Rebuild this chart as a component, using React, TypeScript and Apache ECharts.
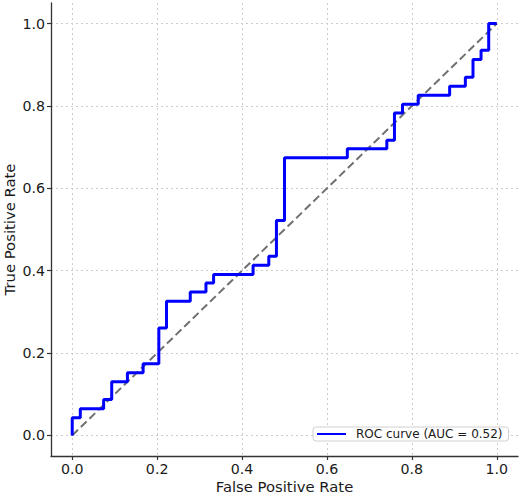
import React, { useEffect, useRef } from "react";
import * as echarts from "echarts";

const fpr = [0, 0, 0.019, 0.019, 0.074, 0.074, 0.093, 0.093, 0.13, 0.13, 0.167, 0.167, 0.204, 0.204, 0.222, 0.222, 0.278, 0.278, 0.315, 0.315, 0.333, 0.333, 0.426, 0.426, 0.463, 0.463, 0.481, 0.481, 0.5, 0.5, 0.648, 0.648, 0.741, 0.741, 0.759, 0.759, 0.778, 0.778, 0.815, 0.815, 0.889, 0.889, 0.926, 0.926, 0.944, 0.944, 0.963, 0.963, 0.981, 0.981, 1];
const tpr = [0, 0.043, 0.043, 0.065, 0.065, 0.087, 0.087, 0.13, 0.13, 0.152, 0.152, 0.174, 0.174, 0.261, 0.261, 0.326, 0.326, 0.348, 0.348, 0.37, 0.37, 0.391, 0.391, 0.413, 0.413, 0.435, 0.435, 0.522, 0.522, 0.674, 0.674, 0.696, 0.696, 0.717, 0.717, 0.783, 0.783, 0.804, 0.804, 0.826, 0.826, 0.848, 0.848, 0.87, 0.87, 0.913, 0.913, 0.935, 0.935, 1, 1];
const chanceX = [0, 1];
const chanceY = [0, 1];
const tickValues = [0, 0.2, 0.4, 0.6, 0.8, 1.0];
const aucLabel = "ROC curve (AUC = 0.52)";
const xName = "False Positive Rate";
const yName = "True Positive Rate";

const FONT = "DejaVu Sans";
const SPINE = "#333333";
const TEXT = "#1a1a1a";

export default function App() {
  const ref = useRef<HTMLDivElement>(null);
  useEffect(() => {
    if (!ref.current) return;
    const chart = echarts.init(ref.current, undefined, { renderer: "svg" });
    const axisCommon = {
      type: "value" as const,
      min: -0.05,
      max: 1.05,
      nameLocation: "middle" as const,
      nameMoveOverlap: false,
      nameTextStyle: { fontFamily: FONT, fontSize: 14.8, color: TEXT },
      axisLine: { show: true, onZero: false, lineStyle: { color: SPINE, width: 1.3 } },
      axisTick: {
        show: true,
        customValues: tickValues,
        length: 4,
        lineStyle: { color: SPINE, width: 1.2 },
      },
      axisLabel: {
        customValues: tickValues,
        formatter: (v: number) => v.toFixed(1),
        fontFamily: FONT,
        fontSize: 14.2,
        color: TEXT,
        margin: 6,
      },
      splitLine: {
        show: true,
        lineStyle: { color: "#cccccc", type: [2, 3], width: 1 },
      },
    };
    chart.setOption({
      animation: false,
      backgroundColor: "#ffffff",
      grid: { left: 51, top: 3, right: 2, bottom: 38, containLabel: false, outerBoundsMode: "none" },
      xAxis: { ...axisCommon, name: xName, nameGap: 22.5 },
      yAxis: { ...axisCommon, name: yName, nameGap: 34 },
      legend: {
        left: 313,
        top: 427,
        padding: [1, 6, 1, 3],
        itemWidth: 29,
        itemHeight: 14,
        borderColor: "#d0d0d0",
        borderWidth: 1,
        borderRadius: 3,
        backgroundColor: "#ffffff",
        itemStyle: { opacity: 0 },
        textStyle: { fontFamily: FONT, fontSize: 12, color: TEXT, padding: [0, 0, 0, 5] },
        data: [aucLabel],
      },
      series: [
        {
          name: "chance",
          type: "line",
          data: chanceX.map((x, i) => [x, chanceY[i]]),
          symbol: "none",
          lineStyle: { color: "#707070", width: 2, type: [8, 4] },
          z: 2,
        },
        {
          name: aucLabel,
          type: "line",
          data: fpr.map((x, i) => [x, tpr[i]]),
          symbol: "none",
          lineStyle: { color: "#0000ff", width: 3 },
          itemStyle: { color: "#0000ff" },
          z: 3,
        },
      ],
    });
    return () => chart.dispose();
  }, []);
  return (
    <div
      ref={ref}
      style={{ position: "absolute", left: 0, top: 0, width: 520, height: 494 }}
    />
  );
}
